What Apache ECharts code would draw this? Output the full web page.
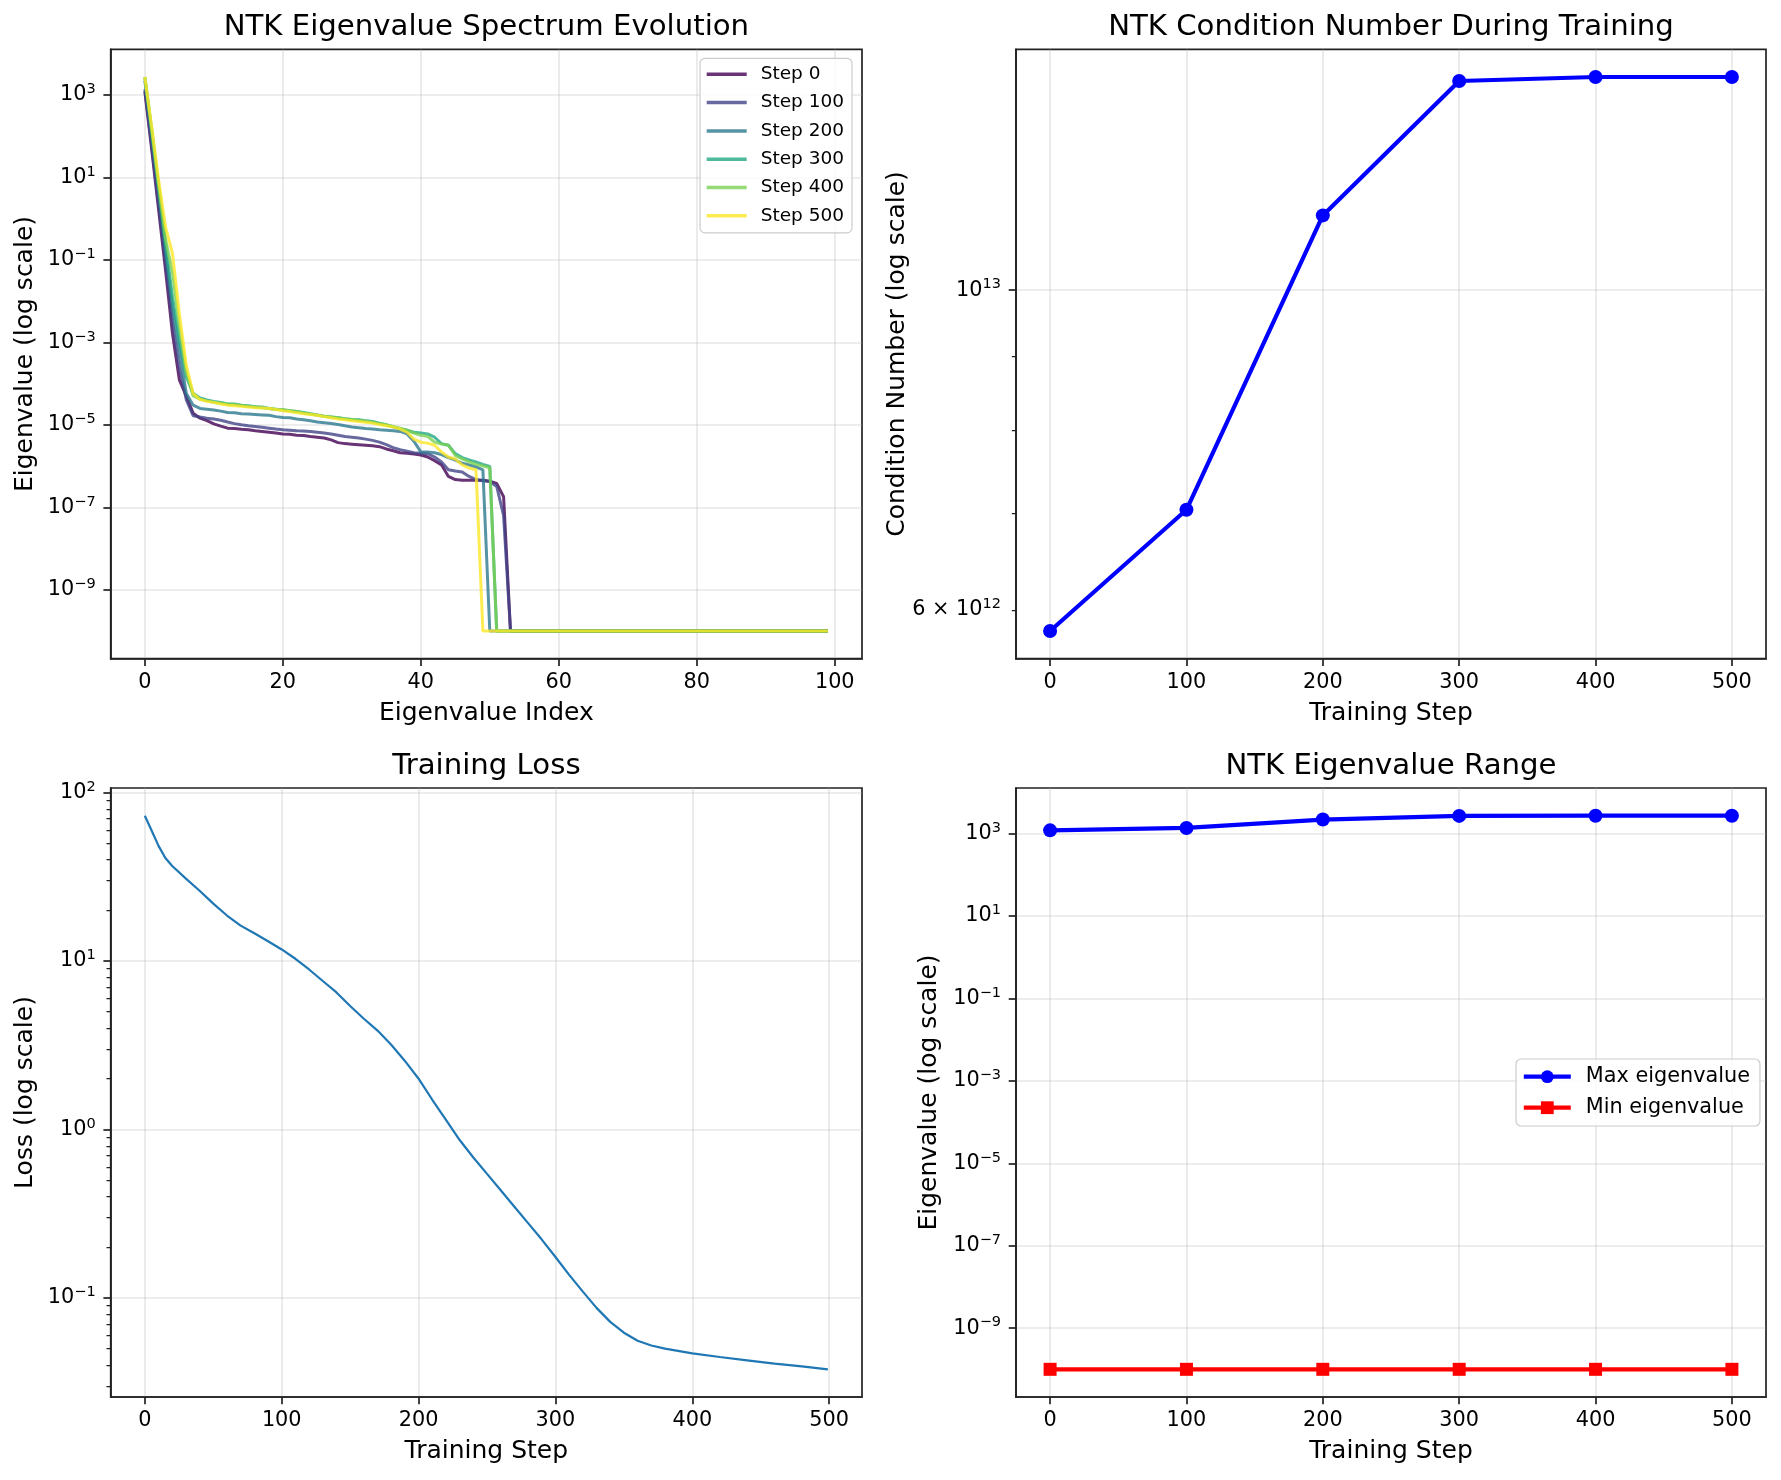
<!DOCTYPE html>
<html><head><meta charset="utf-8">
<script src="https://cdn.jsdelivr.net/npm/echarts@6/dist/echarts.min.js"></script>
<style>html,body{margin:0;padding:0;background:#fff}#c{width:1781px;height:1480px}</style>
</head><body><div id="c"></div>
<script>
// ---------------- data ----------------
const eigIndex = [0,1,2,3,4,5,6,7,8,9,10,11,12,13,14,15,16,17,18,19,20,21,22,23,24,25,26,27,28,29,30,31,32,33,34,35,36,37,38,39,40,41,42,43,44,45,46,47,48,49,50,51,52,53,54,55,56,57,58,59,60,61,62,63,64,65,66,67,68,69,70,71,72,73,74,75,76,77,78,79,80,81,82,83,84,85,86,87,88,89,90,91,92,93,94,95,96,97,98,99];
const stepNames = ['Step 0','Step 100','Step 200','Step 300','Step 400','Step 500'];
const spec0 = [1200,45.7,1.62,0.056,1.66e-3,1.23e-4,5.0e-5,1.9e-5,1.45e-5,1.26e-5,
 1.05e-5,9.3e-6,8.3e-6,8.1e-6,7.8e-6,7.6e-6,7.2e-6,6.9e-6,6.6e-6,6.3e-6,
 6.0e-6,5.9e-6,5.6e-6,5.5e-6,5.2e-6,5.0e-6,4.8e-6,4.3e-6,3.7e-6,3.5e-6,
 3.4e-6,3.3e-6,3.2e-6,3.1e-6,2.95e-6,2.6e-6,2.35e-6,2.1e-6,2.05e-6,1.95e-6,
 1.86e-6,1.66e-6,1.35e-6,1.07e-6,5.6e-7,4.7e-7,4.5e-7,4.5e-7,4.5e-7,4.5e-7,
 4.3e-7,3.8e-7,1.8e-7,1e-10,1e-10,1e-10,1e-10,1e-10,1e-10,1e-10,
 1e-10,1e-10,1e-10,1e-10,1e-10,1e-10,1e-10,1e-10,1e-10,1e-10,
 1e-10,1e-10,1e-10,1e-10,1e-10,1e-10,1e-10,1e-10,1e-10,1e-10,
 1e-10,1e-10,1e-10,1e-10,1e-10,1e-10,1e-10,1e-10,1e-10,1e-10,
 1e-10,1e-10,1e-10,1e-10,1e-10,1e-10,1e-10,1e-10,1e-10,1e-10];
const spec100 = [1370,56,2.2,0.089,3.2e-3,2.5e-4,4.1e-5,1.66e-5,1.55e-5,1.45e-5,
 1.38e-5,1.29e-5,1.17e-5,1.07e-5,1.0e-5,9.5e-6,9.1e-6,8.7e-6,8.3e-6,7.9e-6,
 7.6e-6,7.4e-6,7.2e-6,7.1e-6,6.9e-6,6.6e-6,6.3e-6,6.0e-6,5.6e-6,5.2e-6,
 5.0e-6,4.8e-6,4.5e-6,4.2e-6,3.8e-6,3.3e-6,2.8e-6,2.5e-6,2.3e-6,2.1e-6,
 2.05e-6,2.0e-6,1.66e-6,1.26e-6,8.1e-7,7.6e-7,7.2e-7,5.6e-7,4.7e-7,4.4e-7,
 4.2e-7,3.2e-7,6.3e-8,1e-10,1e-10,1e-10,1e-10,1e-10,1e-10,1e-10,
 1e-10,1e-10,1e-10,1e-10,1e-10,1e-10,1e-10,1e-10,1e-10,1e-10,
 1e-10,1e-10,1e-10,1e-10,1e-10,1e-10,1e-10,1e-10,1e-10,1e-10,
 1e-10,1e-10,1e-10,1e-10,1e-10,1e-10,1e-10,1e-10,1e-10,1e-10,
 1e-10,1e-10,1e-10,1e-10,1e-10,1e-10,1e-10,1e-10,1e-10,1e-10];
const spec200 = [2190,100,4.5,0.16,7.2e-3,6.5e-4,5.8e-5,3.0e-5,2.5e-5,2.4e-5,
 2.3e-5,2.15e-5,2.0e-5,1.95e-5,1.86e-5,1.82e-5,1.78e-5,1.74e-5,1.7e-5,1.58e-5,
 1.51e-5,1.48e-5,1.38e-5,1.32e-5,1.26e-5,1.17e-5,1.12e-5,1.07e-5,1.02e-5,9.5e-6,
 8.9e-6,8.5e-6,8.1e-6,7.9e-6,7.6e-6,7.4e-6,7.2e-6,6.9e-6,6.0e-6,4.0e-6,
 2.2e-6,2.2e-6,2.1e-6,1.9e-6,1.6e-6,1.4e-6,1.17e-6,1.07e-6,9.5e-7,8.1e-7,
 1e-10,1e-10,1e-10,1e-10,1e-10,1e-10,1e-10,1e-10,1e-10,1e-10,
 1e-10,1e-10,1e-10,1e-10,1e-10,1e-10,1e-10,1e-10,1e-10,1e-10,
 1e-10,1e-10,1e-10,1e-10,1e-10,1e-10,1e-10,1e-10,1e-10,1e-10,
 1e-10,1e-10,1e-10,1e-10,1e-10,1e-10,1e-10,1e-10,1e-10,1e-10,
 1e-10,1e-10,1e-10,1e-10,1e-10,1e-10,1e-10,1e-10,1e-10,1e-10];
const spec300 = [2690,126,5.6,0.25,0.0129,1.15e-3,1.48e-4,5.8e-5,4.5e-5,4.0e-5,
 3.7e-5,3.5e-5,3.2e-5,3.2e-5,3.0e-5,2.9e-5,2.75e-5,2.7e-5,2.5e-5,2.4e-5,
 2.3e-5,2.2e-5,2.1e-5,2.0e-5,1.86e-5,1.74e-5,1.62e-5,1.55e-5,1.48e-5,1.41e-5,
 1.35e-5,1.32e-5,1.26e-5,1.2e-5,1.1e-5,1.0e-5,8.9e-6,7.9e-6,7.4e-6,6.6e-6,
 6.3e-6,6.0e-6,5.0e-6,3.5e-6,3.2e-6,2.0e-6,1.6e-6,1.4e-6,1.26e-6,1.1e-6,
 9.8e-7,1e-10,1e-10,1e-10,1e-10,1e-10,1e-10,1e-10,1e-10,1e-10,
 1e-10,1e-10,1e-10,1e-10,1e-10,1e-10,1e-10,1e-10,1e-10,1e-10,
 1e-10,1e-10,1e-10,1e-10,1e-10,1e-10,1e-10,1e-10,1e-10,1e-10,
 1e-10,1e-10,1e-10,1e-10,1e-10,1e-10,1e-10,1e-10,1e-10,1e-10,
 1e-10,1e-10,1e-10,1e-10,1e-10,1e-10,1e-10,1e-10,1e-10,1e-10];
const spec400 = [2720,141,6.3,0.32,0.05,2.5e-3,2.0e-4,5.0e-5,4.2e-5,3.8e-5,
 3.5e-5,3.4e-5,3.2e-5,3.1e-5,2.95e-5,2.8e-5,2.75e-5,2.6e-5,2.5e-5,2.4e-5,
 2.35e-5,2.2e-5,2.1e-5,1.95e-5,1.82e-5,1.7e-5,1.62e-5,1.55e-5,1.48e-5,1.41e-5,
 1.35e-5,1.29e-5,1.23e-5,1.15e-5,1.07e-5,1.0e-5,9.1e-6,8.3e-6,7.4e-6,6.3e-6,
 5.6e-6,5.2e-6,3.8e-6,3.4e-6,3.2e-6,1.8e-6,1.5e-6,1.26e-6,1.1e-6,1.0e-6,
 9.1e-7,1e-10,1e-10,1e-10,1e-10,1e-10,1e-10,1e-10,1e-10,1e-10,
 1e-10,1e-10,1e-10,1e-10,1e-10,1e-10,1e-10,1e-10,1e-10,1e-10,
 1e-10,1e-10,1e-10,1e-10,1e-10,1e-10,1e-10,1e-10,1e-10,1e-10,
 1e-10,1e-10,1e-10,1e-10,1e-10,1e-10,1e-10,1e-10,1e-10,1e-10,
 1e-10,1e-10,1e-10,1e-10,1e-10,1e-10,1e-10,1e-10,1e-10,1e-10];
const spec500 = [2720,166,8.5,0.63,0.145,5.0e-3,2.8e-4,5.8e-5,4.1e-5,3.7e-5,
 3.5e-5,3.2e-5,3.0e-5,2.9e-5,2.8e-5,2.7e-5,2.6e-5,2.55e-5,2.5e-5,2.35e-5,
 2.2e-5,2.1e-5,1.95e-5,1.86e-5,1.78e-5,1.7e-5,1.58e-5,1.48e-5,1.38e-5,1.32e-5,
 1.26e-5,1.2e-5,1.15e-5,1.1e-5,1.02e-5,9.5e-6,8.9e-6,7.9e-6,6.6e-6,4.5e-6,
 3.8e-6,3.6e-6,3.2e-6,2.2e-6,1.66e-6,1.48e-6,1.07e-6,8.9e-7,8.1e-7,1e-10,
 1e-10,1e-10,1e-10,1e-10,1e-10,1e-10,1e-10,1e-10,1e-10,1e-10,
 1e-10,1e-10,1e-10,1e-10,1e-10,1e-10,1e-10,1e-10,1e-10,1e-10,
 1e-10,1e-10,1e-10,1e-10,1e-10,1e-10,1e-10,1e-10,1e-10,1e-10,
 1e-10,1e-10,1e-10,1e-10,1e-10,1e-10,1e-10,1e-10,1e-10,1e-10,
 1e-10,1e-10,1e-10,1e-10,1e-10,1e-10,1e-10,1e-10,1e-10,1e-10];

const trainSteps = [0,100,200,300,400,500];
const condNumber = [5.80e12,7.04e12,1.127e13,1.397e13,1.406e13,1.406e13];
const maxEig = [1200,1370,2190,2690,2720,2720];
const minEig = [1e-10,1e-10,1e-10,1e-10,1e-10,1e-10];

const lossSteps = [0,5,10,15,20,30,40,50,60,70,80,90,100,110,120,130,140,150,160,170,180,190,200,210,220,230,240,250,260,270,280,290,300,310,320,330,340,350,360,370,380,400,420,440,460,480,499];
const lossValues = [72.8,59.3,48.2,40.8,36.6,30.8,26.1,21.9,18.6,16.2,14.6,13.1,11.7,10.3,8.9,7.6,6.5,5.4,4.54,3.86,3.18,2.55,2.0,1.5,1.14,0.865,0.682,0.545,0.436,0.348,0.278,0.222,0.175,0.137,0.109,0.0873,0.0721,0.0622,0.0557,0.0522,0.05,0.0469,0.0446,0.0426,0.0407,0.0392,0.0377];

// tick positions
const idxTicks = [0,20,40,60,80,100];
const stepTicks = [0,100,200,300,400,500];
const eigExpTicks = [-9,-7,-5,-3,-1,1,3];
const lossExpTicks = [-1,0,1,2];
const condMajorTicks = [1e13];
const condMinorTicks = [6e12,7e12,8e12,9e12];
const condMinorLabels = [6e12];
const lossMinorTicks = [0.02,0.03,0.04,0.05,0.06,0.07,0.08,0.09,0.2,0.3,0.4,0.5,0.6,0.7,0.8,0.9,2,3,4,5,6,7,8,9,20,30,40,50,60,70,80,90];

// ---------------- helpers ----------------
const L = Math.log10;
const FONT = 'DejaVu Sans';
const specs = [spec0, spec100, spec200, spec300, spec400, spec500];
const specColors = ['rgba(68,1,84,0.8)','rgba(65,68,135,0.8)','rgba(42,120,142,0.8)','rgba(34,168,132,0.8)','rgba(122,209,81,0.8)','rgba(253,231,37,0.8)'];
function supTxt(e){ return e < 0 ? '\u2212' + (-e) : '' + e; }
function padRange(vals){ const mn = Math.min.apply(null, vals), mx = Math.max.apply(null, vals); const p = (mx - mn) * 0.05; return [mn - p, mx + p]; }

const G = [
  {left:110.7, top:49.3, width:751.3, height:609.4},
  {left:1016, top:49.3, width:750, height:609.4},
  {left:110.7, top:788, width:751.3, height:609},
  {left:1016, top:788, width:750, height:609}
];
const SPINE = '#222';
const tickMajor = {show:true, inside:false, length:7.3, lineStyle:{color:SPINE, width:1.7}};
const tickMinor = {show:true, inside:false, length:4.2, lineStyle:{color:SPINE, width:1.25}};
const axisLineS = {show:true, onZero:false, lineStyle:{color:SPINE, width:1.7}};
const splitS = {show:true, lineStyle:{color:'rgba(176,176,176,0.3)', width:1.67}};
const nameStyle = {fontFamily:FONT, fontSize:25, color:'#000', lineHeight:30};
const richExp = {
  b:{fontFamily:FONT, fontSize:20.8, color:'#000', lineHeight:26},
  s:{fontFamily:FONT, fontSize:14.5, color:'#000', lineHeight:12, verticalAlign:'top'}
};
const expFmt = v => '{b|10}{s|' + supTxt(Math.round(v)) + '}';

function xAxisDef(gi, range, ticks, name){
  return {
    gridIndex:gi, type:'value', min:range[0], max:range[1],
    axisLine:axisLineS,
    axisTick:Object.assign({customValues:ticks}, tickMajor),
    axisLabel:{customValues:ticks, margin:13.5, fontFamily:FONT, fontSize:20.8, color:'#000'},
    splitLine:splitS,
    name:name, nameLocation:'middle', nameGap:39.3, nameTextStyle:nameStyle
  };
}
function yAxisMajor(gi, range, ticks, fmt, name, gap){
  return {
    gridIndex:gi, type:'value', position:'left', min:range[0], max:range[1],
    axisLine:axisLineS,
    axisTick:Object.assign({customValues:ticks}, tickMajor),
    axisLabel:{customValues:ticks, margin:15, formatter:fmt, rich:richExp, fontFamily:FONT, fontSize:20.8, color:'#000'},
    splitLine:splitS,
    name:name, nameLocation:'middle', nameGap:gap, nameRotate:90, nameTextStyle:nameStyle
  };
}
function yAxisMinor(gi, range, ticks, labelTicks, fmt){
  const ax = {
    gridIndex:gi, type:'value', position:'left', min:range[0], max:range[1],
    axisLine:{show:false, onZero:false},
    axisTick:Object.assign({customValues:ticks}, tickMinor),
    splitLine:{show:false}
  };
  if (labelTicks) ax.axisLabel = {customValues:labelTicks, margin:15, formatter:fmt, rich:richExp, fontFamily:FONT, fontSize:20.8, color:'#000'};
  else ax.axisLabel = {show:false};
  return ax;
}

// ranges (matplotlib-like 5% margins)
const specLogAll = [].concat.apply([], specs.map(a => a.map(L)));
const rTLx = padRange(eigIndex);
const rTLy = padRange(specLogAll);
const rStep = padRange(trainSteps);
const rCond = padRange(condNumber.map(L));
const rLossX = padRange(lossSteps);
const rLossY = padRange(lossValues.map(L));
const rRange = padRange(maxEig.map(L).concat(minEig.map(L)));

const condFmtMinor = v => {
  const e = Math.floor(v + 1e-9);
  const m = Math.round(Math.pow(10, v - e));
  return '{b|' + m + ' \u00d7 10}{s|' + e + '}';
};

const series = [];
specs.forEach((arr, i) => {
  series.push({
    type:'line', name:stepNames[i], xAxisIndex:0, yAxisIndex:0,
    data: eigIndex.map((x, j) => [x, L(arr[j])]),
    showSymbol:false, symbol:'none',
    lineStyle:{width:3, color:specColors[i]}, itemStyle:{color:specColors[i]},
    emphasis:{disabled:true}, z:2 + i
  });
});
series.push({
  type:'line', name:'Condition', xAxisIndex:1, yAxisIndex:1,
  data: trainSteps.map((s, i) => [s, L(condNumber[i])]),
  symbol:'circle', symbolSize:14, lineStyle:{width:4.2, color:'#0000ff'}, itemStyle:{color:'#0000ff'},
  emphasis:{disabled:true}
});
series.push({
  type:'line', name:'Loss', xAxisIndex:2, yAxisIndex:3,
  data: lossSteps.map((s, i) => [s, L(lossValues[i])]),
  showSymbol:false, symbol:'none', lineStyle:{width:2.2, color:'#1f77b4'}, itemStyle:{color:'#1f77b4'},
  emphasis:{disabled:true}
});
series.push({
  type:'line', name:'Max eigenvalue', xAxisIndex:3, yAxisIndex:5,
  data: trainSteps.map((s, i) => [s, L(maxEig[i])]),
  symbol:'circle', symbolSize:14, lineStyle:{width:4.2, color:'#0000ff'}, itemStyle:{color:'#0000ff'},
  emphasis:{disabled:true}
});
series.push({
  type:'line', name:'Min eigenvalue', xAxisIndex:3, yAxisIndex:5,
  data: trainSteps.map((s, i) => [s, L(minEig[i])]),
  symbol:'rect', symbolSize:13, lineStyle:{width:4.2, color:'#ff0000'}, itemStyle:{color:'#ff0000'},
  emphasis:{disabled:true}
});

const titleStyle = {fontFamily:FONT, fontSize:29.2, fontWeight:'normal', color:'#000', lineHeight:34};
const option = {
  animation:false,
  backgroundColor:'#ffffff',
  title:[
    {text:'NTK Eigenvalue Spectrum Evolution', left:486.4, top:10.3, textAlign:'center', padding:0, textStyle:titleStyle},
    {text:'NTK Condition Number During Training', left:1391, top:10.3, textAlign:'center', padding:0, textStyle:titleStyle},
    {text:'Training Loss', left:486.4, top:749.5, textAlign:'center', padding:0, textStyle:titleStyle},
    {text:'NTK Eigenvalue Range', left:1391, top:749.5, textAlign:'center', padding:0, textStyle:titleStyle}
  ],
  legend:[
    {
      data:stepNames, orient:'vertical', left:700, top:58.3, align:'left', selectedMode:false,
      icon:'rect', itemWidth:40, itemHeight:3.5, itemGap:8.3,
      padding:[6, 8, 7, 6.7],
      backgroundColor:'rgba(255,255,255,0.8)', borderColor:'#cccccc', borderWidth:1.2, borderRadius:5,
      textStyle:{fontFamily:FONT, fontSize:18.5, color:'#000', lineHeight:20, padding:[0,0,0,9]}
    },
    {
      data:['Max eigenvalue','Min eigenvalue'], orient:'vertical', left:1516, top:1059, align:'left', selectedMode:false,
      itemWidth:47, itemHeight:16, itemGap:9,
      lineStyle:{width:4.2},
      padding:[6.7, 10, 7.3, 5.7],
      backgroundColor:'rgba(255,255,255,0.8)', borderColor:'#cccccc', borderWidth:1.2, borderRadius:5,
      textStyle:{fontFamily:FONT, fontSize:20.8, color:'#000', lineHeight:22, padding:[0,0,0,10]}
    }
  ],
  grid: G.map(g => Object.assign({show:true, borderColor:SPINE, borderWidth:1.7, backgroundColor:'#fff', containLabel:false, outerBoundsMode:'none'}, g)),
  xAxis:[
    xAxisDef(0, rTLx, idxTicks, 'Eigenvalue Index'),
    xAxisDef(1, rStep, stepTicks, 'Training Step'),
    xAxisDef(2, rLossX, stepTicks, 'Training Step'),
    xAxisDef(3, rStep, stepTicks, 'Training Step')
  ],
  yAxis:[
    yAxisMajor(0, rTLy, eigExpTicks, expFmt, 'Eigenvalue (log scale)', 70.7),
    yAxisMajor(1, rCond, condMajorTicks.map(L), expFmt, 'Condition Number (log scale)', 103.7),
    yAxisMinor(1, rCond, condMinorTicks.map(L), condMinorLabels.map(L), condFmtMinor),
    yAxisMajor(2, rLossY, lossExpTicks, expFmt, 'Loss (log scale)', 70.7),
    yAxisMinor(2, rLossY, lossMinorTicks.map(L), null, null),
    yAxisMajor(3, rRange, eigExpTicks, expFmt, 'Eigenvalue (log scale)', 72)
  ],
  series: series
};
const chart = echarts.init(document.getElementById('c'), null, {renderer:'canvas', width:1781, height:1480});
chart.setOption(option);
</script>
</body></html>
